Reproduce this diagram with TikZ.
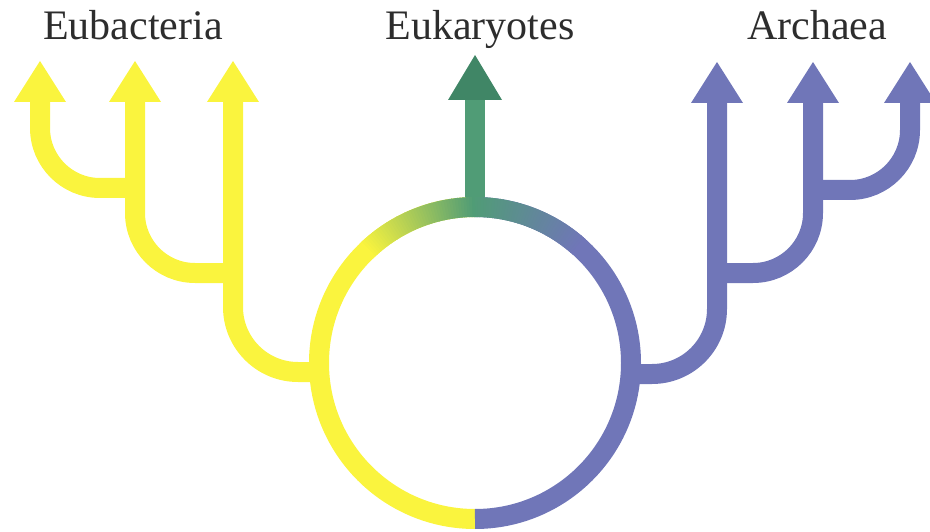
\documentclass[tikz,border=0pt]{standalone}
\usepackage{fontspec}
\setmainfont{Liberation Serif}
\definecolor{ylw}{RGB}{250,244,62}
\definecolor{blu}{RGB}{112,118,184}
\definecolor{grn}{RGB}{80,156,118}
\definecolor{grnd}{RGB}{64,134,102}
\definecolor{txt}{RGB}{45,45,45}
\begin{document}
\begin{tikzpicture}[x=1pt,y=-1pt,
  branch/.style={line width=20pt, rounded corners=60pt},
  label/.style={font=\fontsize{42}{48}\selectfont, text=txt, anchor=base, inner sep=0pt},
  head/.pic={\fill (-26,0) -- (26,0) -- (0,-41) -- cycle;}]
\useasboundingbox (0,0) rectangle (930,532);
% labels
\node[label] (eub) at (133,40) {Eubacteria};
\node[label] (euk) at (480,40) {Eukaryotes};
\node[label] (arc) at (817,40) {Archaea};
% key points
\coordinate (c) at (475,363);
\coordinate (jl) at (320,372);
\coordinate (jr) at (631,374);
% eubacteria branches
\draw[branch, ylw] (40,101) -- (40,188) -- (135,188);
\draw[branch, ylw] (135,101) -- (135,273) -- (233,273);
\draw[branch, ylw, rounded corners=65pt] (233,101) -- (233,372) -- (jl);
\pic[ylw] at (40,102) {head};
\pic[ylw] at (135,102) {head};
\pic[ylw] at (233,102) {head};
% archaea branches
\draw[branch, blu] (910,101) -- (910,190) -- (813,190);
\draw[branch, blu] (813,101) -- (813,273) -- (717,273);
\draw[branch, blu, rounded corners=65pt] (717,101) -- (717,374) -- (jr);
\pic[blu] at (717,103) {head};
\pic[blu] at (813,103) {head};
\pic[blu] at (910,103) {head};
% eukaryotes
\draw[line width=20pt, grn] (475,210) -- (475,99);
\fill[grnd] (448,100) -- (502,100) -- (475,55) -- cycle;
% circle (y axis points down: angle 90 = bottom, -90 = top)
\draw[line width=20pt, ylw] (475,519) arc[start angle=90, end angle=270, radius=156];
\draw[line width=20pt, blu] (475,207) arc[start angle=-90, end angle=90, radius=156];
\foreach \a in {48,49,...,89} {
  \pgfmathsetmacro\t{(\a-48)/42*100}
  \draw[line width=20pt, color=grn!\t!blu] ([shift={(-\a:156)}]c) arc[start angle=-\a, end angle=-\a-1.3, radius=156];
}
\foreach \a in {90,91,...,133} {
  \pgfmathsetmacro\t{(133-\a)/43*100}
  \draw[line width=20pt, color=grn!\t!ylw] ([shift={(-\a:156)}]c) arc[start angle=-\a, end angle=-\a-1.3, radius=156];
}
\end{tikzpicture}
\end{document}
